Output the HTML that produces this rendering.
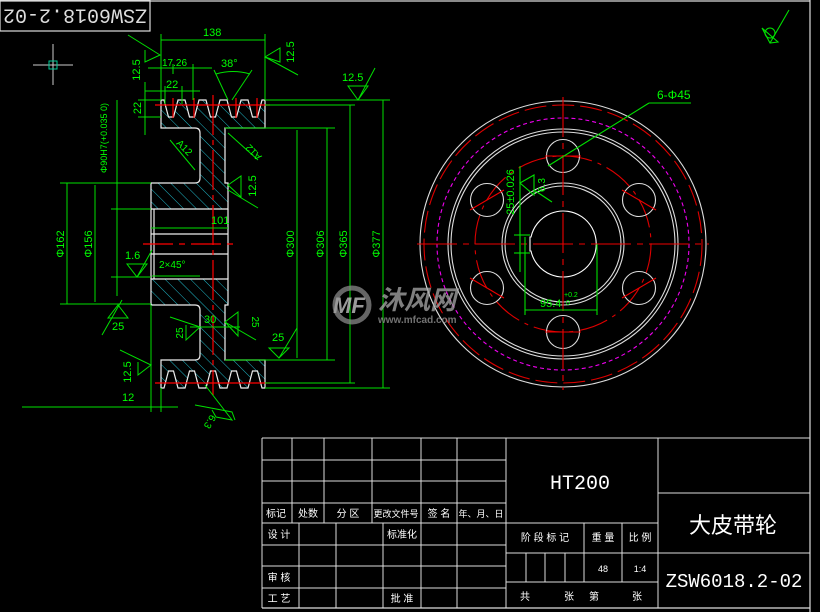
<!DOCTYPE html>
<html><head><meta charset="utf-8"><style>
html,body{margin:0;padding:0;background:#000;}
svg{display:block}
text{font-family:"Liberation Sans","Noto Sans CJK SC",sans-serif;}
.g{fill:#00ff00;font-size:11px;font-family:"Liberation Mono","Noto Sans CJK SC",monospace}
.w{fill:#fff;font-size:10px;font-family:"Liberation Sans","Noto Sans CJK SC",sans-serif}
</style></head><body>
<svg width="820" height="612" viewBox="0 0 820 612" xmlns="http://www.w3.org/2000/svg">
<defs>
<pattern id="h" width="9" height="9" patternUnits="userSpaceOnUse" patternTransform="rotate(-45)">
<line x1="0" y1="0" x2="0" y2="9" stroke="#1fb8c8" stroke-width="1"/>
</pattern>
</defs>
<rect width="820" height="612" fill="#000"/>
<g stroke="#ddd" stroke-width="1.2" fill="none">
<line x1="0" y1="1" x2="810" y2="1"/>
<line x1="810" y1="0" x2="810" y2="612"/>
<line x1="262" y1="608" x2="810" y2="608"/>
<rect x="0" y="0" width="150" height="31"/>
</g>
<text transform="translate(75,15) rotate(180)" text-anchor="middle" dominant-baseline="middle" fill="#ddd" style="font-size:20px;font-family:'Liberation Mono',monospace">ZSW6018.2-02</text>
<g stroke="#ccc" stroke-width="1"><line x1="33" y1="65" x2="73" y2="65"/><line x1="53" y1="44" x2="53" y2="85"/></g>
<rect x="49" y="61" width="8" height="8" fill="none" stroke="#0c9"/>

<g stroke="#eee" stroke-width="1.2" fill="url(#h)">
<path d="M151,209 L151,183 L195,183 Q200,183 200,178 L200,133 Q200,128 195,128 L161,128 L161,100 L164,100 L168.5,117 L173.5,117 L178,100 L185,100 L189.5,117 L194.5,117 L199,100 L206,100 L210.5,117 L215.5,117 L220,100 L227,100 L231.5,117 L236.5,117 L241,100 L248,100 L252.5,117 L257.5,117 L262,100 L265,100 L265,128 L225,128 L225,183 L228,183 L228,209 Z"/>
<path d="M151,279 L151,305 L195,305 Q200,305 200,310 L200,355 Q200,360 195,360 L161,360 L161,388 L164,388 L168.5,371 L173.5,371 L178,388 L185,388 L189.5,371 L194.5,371 L199,388 L206,388 L210.5,371 L215.5,371 L220,388 L227,388 L231.5,371 L236.5,371 L241,388 L248,388 L252.5,371 L257.5,371 L262,388 L265,388 L265,360 L225,360 L225,305 L228,305 L228,279 Z"/>
</g>
<g stroke="#eee" stroke-width="1.2" fill="none">
<line x1="151" y1="209" x2="151" y2="279"/><line x1="228" y1="209" x2="228" y2="279"/>
<line x1="151" y1="234" x2="228" y2="234"/><line x1="151" y1="254" x2="228" y2="254"/>
<line x1="154" y1="209" x2="154" y2="279"/>
</g>
<g stroke="#f00" stroke-width="1.2">
<line x1="143" y1="244" x2="238" y2="244" stroke-dasharray="30,6,6,6"/>
<line x1="213" y1="95" x2="213" y2="395" stroke-dasharray="40,5,5,5"/>
<line x1="155" y1="105" x2="270" y2="105"/><line x1="155" y1="383" x2="270" y2="383"/>
<line x1="173" y1="98" x2="173" y2="118"/><line x1="194" y1="98" x2="194" y2="118"/><line x1="236" y1="98" x2="236" y2="118"/><line x1="257" y1="98" x2="257" y2="118"/>
</g>

<g stroke="#00e000" stroke-width="1" fill="none">
<line x1="161" y1="34" x2="161" y2="100"/><line x1="265" y1="34" x2="265" y2="100"/><line x1="161" y1="40" x2="265" y2="40"/>
<line x1="148" y1="68" x2="212" y2="68"/><line x1="173" y1="64" x2="173" y2="74"/><line x1="193" y1="64" x2="193" y2="100"/>
<line x1="145" y1="91" x2="200" y2="91"/><line x1="165" y1="86" x2="165" y2="104"/><line x1="182" y1="86" x2="182" y2="104"/>
<line x1="214" y1="70" x2="228" y2="100"/><line x1="252" y1="70" x2="232" y2="100"/><path d="M216,74 Q233,69 250,74"/>
<line x1="145" y1="82" x2="145" y2="135"/><line x1="138" y1="100" x2="161" y2="100"/><line x1="138" y1="117" x2="161" y2="117"/>
<path d="M128,35 L160,55 L145,62 L145,50"/><path d="M265,57 L280,48 L280,62 Z M265,57 L298,75"/>
<line x1="265" y1="100" x2="390" y2="100"/><line x1="265" y1="105" x2="355" y2="105"/>
<line x1="225" y1="128" x2="335" y2="128"/><line x1="225" y1="360" x2="335" y2="360"/>
<line x1="265" y1="383" x2="355" y2="383"/><line x1="265" y1="388" x2="390" y2="388"/>
<path d="M348,86 L368,86 L358,100 Z M358,100 L375,68"/>
<line x1="297" y1="130" x2="297" y2="358"/><line x1="327" y1="128" x2="327" y2="360"/>
<line x1="350" y1="105" x2="350" y2="383"/><line x1="383" y1="100" x2="383" y2="388"/>
<line x1="60" y1="183" x2="151" y2="183"/><line x1="60" y1="304" x2="151" y2="304"/>
<line x1="67" y1="183" x2="67" y2="304"/><line x1="95" y1="185" x2="95" y2="302"/>
<line x1="117" y1="100" x2="117" y2="296"/>
<line x1="111" y1="209" x2="151" y2="209"/><line x1="111" y1="277" x2="151" y2="277"/>
<line x1="151" y1="228" x2="228" y2="228"/>
<path d="M127,264 L147,264 L137,277 Z M137,277 L152,250"/><line x1="152" y1="276" x2="200" y2="276"/>
<path d="M108,318 L128,318 L118,305 Z M102,335 L122,300"/>
<path d="M170,140 L195,170"/><path d="M228,133 L258,160"/>
<path d="M228,185 L241,176 L241,197 Z M228,190 L258,208"/>
<line x1="190" y1="327" x2="240" y2="327"/>
<path d="M170,317 L200,327 L186,340 L186,325"/><path d="M225,322 L238,312 L238,336 Z M225,322 L256,340"/>
<path d="M269,348 L289,348 L279,358 Z M279,358 L297,328"/>
<path d="M120,350 L151,365 L138,375 L138,362"/>
<line x1="22" y1="407" x2="178" y2="407"/><line x1="151" y1="305" x2="151" y2="412"/><line x1="161" y1="388" x2="161" y2="412"/>
<path d="M205,385 L232,420 L216,417 L212,410 M195,405 L232,412 L235,420"/>
</g>
<g class="g">
<text x="203" y="36">138</text>
<text x="162" y="66" font-size="10">17.26</text>
<text x="166" y="88">22</text>
<text x="221" y="67">38°</text>
<text x="342" y="81">12.5</text>
<text x="211" y="224">101</text>
<text x="125" y="259">1.6</text>
<text x="159" y="268" font-size="10">2×45°</text>
<text x="112" y="330">25</text>
<text x="204" y="323">30</text>
<text x="272" y="341">25</text>
<text x="122" y="401">12</text>
<text transform="translate(140,70) rotate(-90)" text-anchor="middle">12.5</text>
<text transform="translate(294,52) rotate(-90)" text-anchor="middle">12.5</text>
<text transform="translate(141,108) rotate(-90)" text-anchor="middle">22</text>
<text transform="translate(107,138) rotate(-90)" text-anchor="middle" font-size="9">Φ90H7(+0.035 0)</text>
<text transform="translate(64,244) rotate(-90)" text-anchor="middle">Φ162</text>
<text transform="translate(92,244) rotate(-90)" text-anchor="middle">Φ156</text>
<text transform="translate(294,244) rotate(-90)" text-anchor="middle">Φ300</text>
<text transform="translate(324,244) rotate(-90)" text-anchor="middle">Φ306</text>
<text transform="translate(347,244) rotate(-90)" text-anchor="middle">Φ365</text>
<text transform="translate(380,244) rotate(-90)" text-anchor="middle">Φ377</text>
<text transform="translate(256,186) rotate(-90)" text-anchor="middle">12.5</text>
<text transform="translate(182,150) rotate(45)" text-anchor="middle" font-size="10">A12</text>
<text transform="translate(256,150) rotate(-135)" text-anchor="middle" font-size="10">A12</text>
<text transform="translate(183,333) rotate(-90)" text-anchor="middle" font-size="10">25</text>
<text transform="translate(252,322) rotate(90)" text-anchor="middle" font-size="10">25</text>
<text transform="translate(131,372) rotate(-90)" text-anchor="middle">12.5</text>
<text transform="translate(207,420) rotate(120)" text-anchor="middle" font-size="10">6.3</text>
</g>

<g fill="none" stroke-width="1.1">
<circle cx="563" cy="244" r="143" stroke="#ddd"/>
<circle cx="563" cy="244" r="139" stroke="#d00" stroke-dasharray="22,6"/>
<circle cx="563" cy="244" r="126" stroke="#e0e" stroke-dasharray="4,3"/>
<circle cx="563" cy="244" r="115" stroke="#ddd"/>
<circle cx="563" cy="244" r="112" stroke="#ddd"/>
<circle cx="563" cy="244" r="88" stroke="#d00" stroke-dasharray="30,6,4,6"/>
<circle cx="563" cy="244" r="61" stroke="#ddd"/>
<circle cx="563" cy="244" r="58" stroke="#ddd"/>
<path d="M530,237 L530,251 L531,251 A33,33 0 1 0 531,237 Z" stroke="#fff"/>
<g stroke="#ddd">
<circle cx="563" cy="156" r="16.5"/><circle cx="563" cy="332" r="16.5"/>
<circle cx="487" cy="200" r="16.5"/><circle cx="639" cy="200" r="16.5"/>
<circle cx="487" cy="288" r="16.5"/><circle cx="639" cy="288" r="16.5"/>
</g>
<g stroke="#e00">
<line x1="417" y1="244" x2="709" y2="244" stroke-dasharray="40,6,6,6"/>
<line x1="563" y1="97" x2="563" y2="390" stroke-dasharray="40,6,6,6"/>
<line x1="470" y1="210" x2="504" y2="190"/><line x1="622" y1="190" x2="656" y2="210"/>
<line x1="470" y1="278" x2="504" y2="298"/><line x1="622" y1="298" x2="656" y2="278"/>
<line x1="545" y1="156" x2="581" y2="156"/><line x1="545" y1="332" x2="581" y2="332"/>
</g>
<g stroke="#00e000">
<line x1="649" y1="103" x2="691" y2="103"/><line x1="649" y1="103" x2="548" y2="166"/>
<line x1="520" y1="166" x2="520" y2="272"/><line x1="514" y1="235" x2="530" y2="235"/><line x1="514" y1="253" x2="530" y2="253"/>
<path d="M520,183 L534,175 L534,195 Z M534,190 L552,202"/>
<line x1="525" y1="237" x2="525" y2="315"/><line x1="597" y1="244" x2="597" y2="315"/><line x1="525" y1="310" x2="597" y2="310"/>
<path d="M762,28 L778,42 L770,43 Z M770,43 L789,10"/><circle cx="770" cy="33" r="5"/>
</g>
</g>
<g class="g">
<text x="657" y="99" font-size="12">6-Φ45</text>
<text transform="translate(514,192) rotate(-90)" text-anchor="middle">25±0.026</text>
<text transform="translate(545,185) rotate(-90)" text-anchor="middle" font-size="10">6.3</text>
<text x="540" y="307">95.4</text><text x="564" y="297" font-size="7">+0.2</text><text x="566" y="305" font-size="7">0</text>
</g>

<g opacity="0.75">
<circle cx="352" cy="305" r="17" fill="none" stroke="#888" stroke-width="5"/>
<text x="333" y="313" fill="#ccc" font-size="22" font-weight="bold" font-style="italic">MF</text>
<text x="378" y="309" fill="#aaa" font-size="26" font-weight="bold" font-style="italic">沐风网</text>
<text x="378" y="323" fill="#999" font-size="10" font-weight="bold">www.mfcad.com</text>
</g>

<g stroke="#ddd" stroke-width="1" fill="none">
<line x1="262" y1="438" x2="810" y2="438"/><line x1="262" y1="438" x2="262" y2="608"/>
<line x1="262" y1="460" x2="506" y2="460"/><line x1="262" y1="481" x2="506" y2="481"/><line x1="262" y1="503" x2="506" y2="503"/><line x1="262" y1="523" x2="658" y2="523"/>
<line x1="262" y1="545" x2="506" y2="545"/><line x1="262" y1="566" x2="506" y2="566"/><line x1="262" y1="588" x2="506" y2="588"/>
<line x1="292" y1="438" x2="292" y2="523"/><line x1="324" y1="438" x2="324" y2="523"/><line x1="372" y1="438" x2="372" y2="523"/>
<line x1="421" y1="438" x2="421" y2="608"/><line x1="457" y1="438" x2="457" y2="608"/>
<line x1="299" y1="523" x2="299" y2="608"/><line x1="336" y1="523" x2="336" y2="608"/><line x1="383" y1="523" x2="383" y2="608"/>
<line x1="506" y1="438" x2="506" y2="608"/><line x1="658" y1="438" x2="658" y2="608"/>
<line x1="506" y1="553" x2="658" y2="553"/><line x1="506" y1="582" x2="658" y2="582"/>
<line x1="526" y1="553" x2="526" y2="582"/><line x1="545" y1="553" x2="545" y2="582"/><line x1="565" y1="553" x2="565" y2="582"/>
<line x1="584" y1="523" x2="584" y2="582"/><line x1="622" y1="523" x2="622" y2="582"/>
<line x1="658" y1="493" x2="810" y2="493"/><line x1="658" y1="553" x2="810" y2="553"/>
</g>
<g class="w" text-anchor="middle">
<text x="276" y="517">标记</text><text x="308" y="517">处数</text><text x="348" y="517">分 区</text><text x="396" y="517" font-size="9">更改文件号</text><text x="439" y="517">签 名</text><text x="481" y="517" font-size="9">年、月、日</text>
<text x="279" y="538">设 计</text><text x="402" y="538">标准化</text>
<text x="279" y="581">审 核</text><text x="279" y="602">工 艺</text><text x="402" y="602">批 准</text>
<text x="545" y="541">阶 段 标 记</text><text x="603" y="541">重 量</text><text x="640" y="541">比 例</text>
<text x="603" y="572" font-size="9">48</text><text x="640" y="572" font-size="9">1:4</text>
<text x="525" y="600">共</text><text x="569" y="600">张</text><text x="594" y="600">第</text><text x="637" y="600">张</text>
<text x="580" y="489" style="font-size:20px;font-family:'Liberation Mono',monospace">HT200</text>
<text x="733" y="533" style="font-size:22px">大皮带轮</text>
<text x="734" y="587" style="font-size:19px;font-family:'Liberation Mono',monospace">ZSW6018.2-02</text>
</g>
</svg>
</body></html>
